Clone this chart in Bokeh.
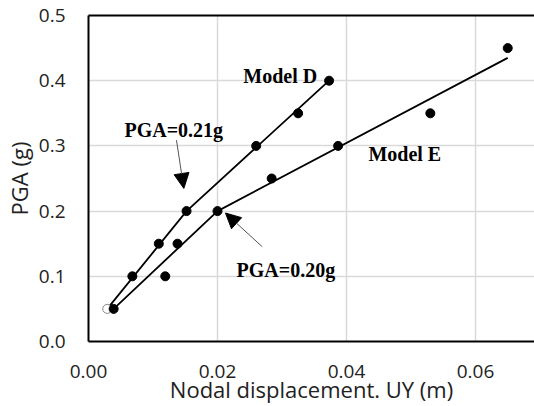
from bokeh.plotting import figure
from bokeh.models import (ColumnDataSource, LinearAxis, FixedTicker, Arrow, NormalHead,
                          Range1d, Label)
from bokeh.embed import file_html
from bokeh.resources import INLINE

# ---- data ----
model_d_x = [0.0029, 0.0068, 0.0109, 0.0152, 0.0260, 0.0325, 0.0373]
model_d_y = [0.05, 0.10, 0.15, 0.20, 0.30, 0.35, 0.40]
model_e_x = [0.0039, 0.0119, 0.0138, 0.0200, 0.0284, 0.0387, 0.0530, 0.0650]
model_e_y = [0.05, 0.10, 0.15, 0.20, 0.25, 0.30, 0.35, 0.45]
fit_d_x = [0.0029, 0.0152, 0.0373]
fit_d_y = [0.05, 0.20, 0.40]
fit_e_x = [0.0039, 0.0200, 0.0650]
fit_e_y = [0.05, 0.20, 0.435]
x_ticks = [0.0, 0.02, 0.04, 0.06]
x_tick_labels = ["0.00", "0.02", "0.04", "0.06"]
y_ticks = [0.0, 0.1, 0.2, 0.3, 0.4, 0.5]
y_tick_labels = ["0.0", "0.1", "0.2", "0.3", "0.4", "0.5"]

SANS = "Open Sans"
SERIF = "Liberation Serif"

p = figure(width=534, height=406, output_backend="svg", toolbar_location=None,
           x_range=Range1d(0, 0.06915), y_range=Range1d(0, 0.5),
           min_border_left=0, min_border_right=0, min_border_top=15, min_border_bottom=0)
p.outline_line_color = None
p.background_fill_color = "white"
p.border_fill_color = "white"

# axes
for ax in (p.xaxis[0], p.yaxis[0]):
    ax.axis_line_color = "black"
    ax.axis_line_width = 2
    ax.major_tick_line_color = None
    ax.minor_tick_line_color = None
    ax.major_label_text_font = SANS
    ax.major_label_text_font_size = "19px"
    ax.major_label_text_color = "#222222"
    ax.axis_label_text_font = SANS
    ax.axis_label_text_font_size = "22px"
    ax.axis_label_text_font_style = "normal"
    ax.axis_label_text_color = "#222222"

p.xaxis.ticker = FixedTicker(ticks=x_ticks)
p.xaxis.major_label_overrides = {t: l for t, l in zip(x_ticks, x_tick_labels)}
p.yaxis.ticker = FixedTicker(ticks=y_ticks)
p.yaxis.major_label_overrides = {t: l for t, l in zip(y_ticks, y_tick_labels)}
p.xaxis.axis_label = "Nodal displacement. UY (m)"
p.yaxis.axis_label = "PGA (g)"
p.xaxis.major_label_standoff = 17
p.yaxis.major_label_standoff = 17
p.xaxis.axis_label_standoff = -7
p.yaxis.axis_label_standoff = 2

top = LinearAxis(ticker=FixedTicker(ticks=[]), major_tick_line_color=None,
                 minor_tick_line_color=None, major_label_text_font_size="0px",
                 axis_line_color="black", axis_line_width=2)
p.add_layout(top, "above")

# grid
p.xgrid.ticker = FixedTicker(ticks=x_ticks[1:])
p.ygrid.ticker = FixedTicker(ticks=y_ticks[1:])
p.grid.grid_line_color = "#d9d9d9"
p.grid.grid_line_width = 1.5

# trend lines
p.line(fit_d_x, fit_d_y, line_color="black", line_width=1.8)
p.line(fit_e_x, fit_e_y, line_color="black", line_width=1.8)

# markers
d_fill = ["white"] + ["black"] * (len(model_d_x) - 1)
d_line = ["#888888"] + ["black"] * (len(model_d_x) - 1)
src_d = ColumnDataSource(dict(x=model_d_x, y=model_d_y, f=d_fill, l=d_line))
p.scatter("x", "y", source=src_d, size=9, fill_color="f", line_color="l")
p.scatter(model_e_x, model_e_y, size=9, fill_color="black", line_color="black")

# labels
lab_style = dict(text_font=SERIF, text_font_style="bold", text_font_size="20px",
                 text_color="black", text_baseline="alphabetic", text_align="left")
p.add_layout(Label(x=0.0240, y=0.4066, text="Model D", **lab_style))
p.add_layout(Label(x=0.0434, y=0.2873, text="Model E", **lab_style))
p.add_layout(Label(x=0.00558, y=0.324, text="PGA=0.21g", **lab_style))
p.add_layout(Label(x=0.02295, y=0.1097, text="PGA=0.20g", **lab_style))

# arrows
p.add_layout(Arrow(x_start=0.01364, y_start=0.3088, x_end=0.01478, y_end=0.2348,
                   line_color="#555555", line_width=1,
                   end=NormalHead(size=15, fill_color="black", line_color="black")))
p.add_layout(Arrow(x_start=0.02693, y_start=0.1454, x_end=0.02124, y_end=0.1970,
                   line_color="#555555", line_width=1,
                   end=NormalHead(size=15, fill_color="black", line_color="black")))

open("out.html", "w").write(file_html(p, INLINE))
